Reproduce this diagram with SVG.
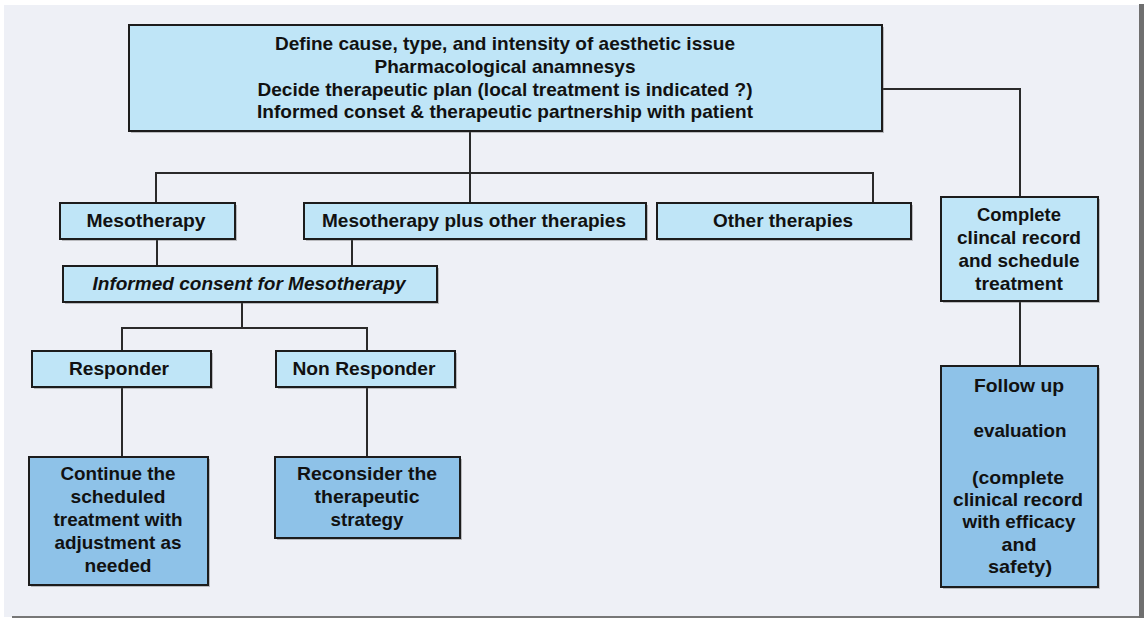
<svg xmlns="http://www.w3.org/2000/svg" width="1144" height="618" viewBox="0 0 1144 618">
<style>
.bg{fill:#eef0f6}
.lt{fill:#bfe5f7;stroke:#1c1c1c;stroke-width:2}
.dk{fill:#8ec2e8;stroke:#1c1c1c;stroke-width:2}
.sh{fill:#555;opacity:0.35}
.cn{fill:none;stroke:#2a2a2a;stroke-width:2}
text{font-family:"Liberation Sans",Arial,sans-serif;font-weight:bold;font-size:19px;fill:#111;text-anchor:middle}
.it{font-style:italic}
</style>
<rect x="0" y="0" width="1144" height="618" fill="#ffffff"/>
<rect class="bg" x="4" y="5" width="1135" height="612"/>
<rect x="1139" y="4" width="5" height="614" fill="#6f6f6f"/>
<rect x="12" y="616" width="1127" height="2" fill="#777"/>

<g id="connectors">
<polyline class="cn" points="470,131 470,203"/>
<polyline class="cn" points="156,203 156,173 873,173 873,203"/>
<polyline class="cn" points="882,89 1020,89 1020,197"/>
<polyline class="cn" points="157,239 157,266"/>
<polyline class="cn" points="352,239 352,266"/>
<polyline class="cn" points="242,302 242,328"/>
<polyline class="cn" points="122,351 122,328 367,328 367,351"/>
<polyline class="cn" points="122,387 122,457"/>
<polyline class="cn" points="367,387 367,457"/>
<polyline class="cn" points="1020,301 1020,366"/>
</g>

<g id="top">
<rect class="sh" x="131" y="27" width="753" height="106"/>
<rect class="lt" x="129" y="25" width="753" height="106"/>
<text x="505" y="50" textLength="460" lengthAdjust="spacingAndGlyphs">Define cause, type, and intensity of aesthetic issue</text>
<text x="505" y="73" textLength="261" lengthAdjust="spacingAndGlyphs">Pharmacological anamnesys</text>
<text x="505" y="96" textLength="495" lengthAdjust="spacingAndGlyphs">Decide therapeutic plan (local treatment is indicated ?)</text>
<text x="505" y="118" textLength="496" lengthAdjust="spacingAndGlyphs">Informed conset &amp; therapeutic partnership with patient</text>
</g>

<g id="meso">
<rect class="sh" x="62" y="205" width="175" height="36"/>
<rect class="lt" x="60" y="203" width="175" height="36"/>
<text x="146" y="227" textLength="119" lengthAdjust="spacingAndGlyphs">Mesotherapy</text>
</g>

<g id="mesoplus">
<rect class="sh" x="306" y="205" width="342" height="36"/>
<rect class="lt" x="304" y="203" width="342" height="36"/>
<text x="474" y="227" textLength="304" lengthAdjust="spacingAndGlyphs">Mesotherapy plus other therapies</text>
</g>

<g id="other">
<rect class="sh" x="659" y="205" width="254" height="36"/>
<rect class="lt" x="657" y="203" width="254" height="36"/>
<text x="783" y="227" textLength="140" lengthAdjust="spacingAndGlyphs">Other therapies</text>
</g>

<g id="complete">
<rect class="sh" x="943" y="199" width="157" height="104"/>
<rect class="lt" x="941" y="197" width="157" height="104"/>
<text x="1019" y="221" textLength="84" lengthAdjust="spacingAndGlyphs">Complete</text>
<text x="1019" y="244" textLength="124" lengthAdjust="spacingAndGlyphs">clincal record</text>
<text x="1019" y="267" textLength="121" lengthAdjust="spacingAndGlyphs">and schedule</text>
<text x="1019" y="290" textLength="88" lengthAdjust="spacingAndGlyphs">treatment</text>
</g>

<g id="consent">
<rect class="sh" x="65" y="268" width="374" height="36"/>
<rect class="lt" x="63" y="266" width="374" height="36"/>
<text class="it" x="249" y="290" textLength="313" lengthAdjust="spacingAndGlyphs">Informed consent for Mesotherapy</text>
</g>

<g id="responder">
<rect class="sh" x="34" y="353" width="179" height="36"/>
<rect class="lt" x="32" y="351" width="179" height="36"/>
<text x="119" y="375" textLength="100" lengthAdjust="spacingAndGlyphs">Responder</text>
</g>

<g id="nonresponder">
<rect class="sh" x="278" y="353" width="179" height="36"/>
<rect class="lt" x="276" y="351" width="179" height="36"/>
<text x="364" y="375" textLength="143" lengthAdjust="spacingAndGlyphs">Non Responder</text>
</g>

<g id="continue">
<rect class="sh" x="31" y="459" width="179" height="128"/>
<rect class="dk" x="29" y="457" width="179" height="128"/>
<text x="118" y="480" textLength="115" lengthAdjust="spacingAndGlyphs">Continue the</text>
<text x="118" y="503" textLength="95" lengthAdjust="spacingAndGlyphs">scheduled</text>
<text x="118" y="526" textLength="129" lengthAdjust="spacingAndGlyphs">treatment with</text>
<text x="118" y="549" textLength="127" lengthAdjust="spacingAndGlyphs">adjustment as</text>
<text x="118" y="572" textLength="67" lengthAdjust="spacingAndGlyphs">needed</text>
</g>

<g id="reconsider">
<rect class="sh" x="277" y="459" width="185" height="81"/>
<rect class="dk" x="275" y="457" width="185" height="81"/>
<text x="367" y="480" textLength="140" lengthAdjust="spacingAndGlyphs">Reconsider the</text>
<text x="367" y="503" textLength="105" lengthAdjust="spacingAndGlyphs">therapeutic</text>
<text x="367" y="526" textLength="73" lengthAdjust="spacingAndGlyphs">strategy</text>
</g>

<g id="followup">
<rect class="sh" x="943" y="368" width="157" height="221"/>
<rect class="dk" x="941" y="366" width="157" height="221"/>
<text x="1019" y="392" textLength="90" lengthAdjust="spacingAndGlyphs">Follow up</text>
<text x="1020" y="437" textLength="93" lengthAdjust="spacingAndGlyphs">evaluation</text>
<text x="1018" y="484" textLength="92" lengthAdjust="spacingAndGlyphs">(complete</text>
<text x="1018" y="506" textLength="130" lengthAdjust="spacingAndGlyphs">clinical record</text>
<text x="1019" y="528" textLength="113" lengthAdjust="spacingAndGlyphs">with efficacy</text>
<text x="1019" y="551" textLength="35" lengthAdjust="spacingAndGlyphs">and</text>
<text x="1020" y="573" textLength="64" lengthAdjust="spacingAndGlyphs">safety)</text>
</g>
</svg>
